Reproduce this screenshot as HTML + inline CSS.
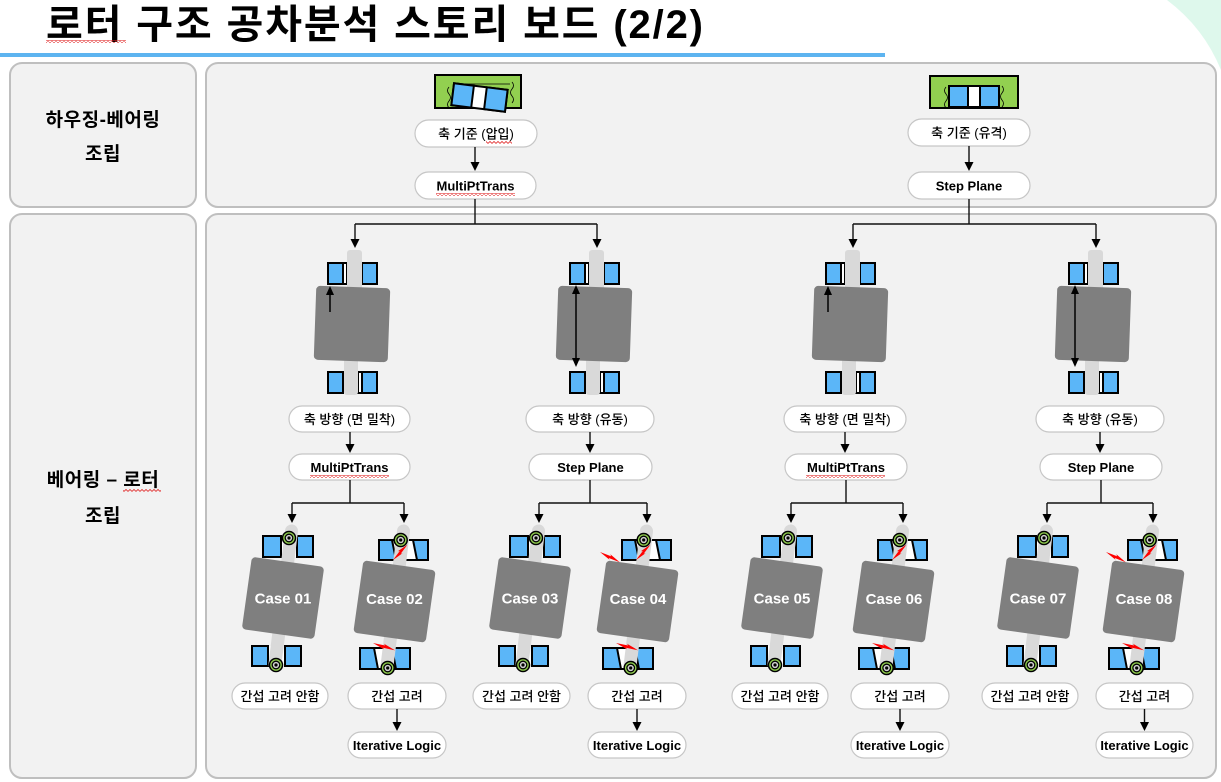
<!DOCTYPE html>
<html><head><meta charset="utf-8">
<style>
html,body{margin:0;padding:0;background:#fff;}
svg{display:block;}
text{font-family:"Liberation Sans","Noto Sans CJK KR",sans-serif;fill:#000;}
.k{font-size:13px;font-weight:500;}
.l{font-size:13px;font-weight:bold;}
.c{font-size:15px;font-weight:bold;fill:#fff;}
.h{font-size:19px;font-weight:bold;}
.ov{fill:#fff;stroke:#c6c6c6;stroke-width:1.2;}
.pn{fill:#f2f2f2;stroke:#bfbfbf;stroke-width:2;}
.cn{stroke:#111;stroke-width:1.4;fill:none;}
.b{fill:#5bb6f8;stroke:#000;stroke-width:2;}
.w{fill:#fff;stroke:#000;stroke-width:2;}
</style></head><body>
<svg width="1221" height="782" viewBox="0 0 1221 782" xmlns="http://www.w3.org/2000/svg" xmlns:xlink="http://www.w3.org/1999/xlink">
<defs>
<path id="bolt" d="M0 0 L11 2.5 L10 0.8 L20 7 L9 4.5 L10 6 Z" fill="#ff0000"/>
<pattern id="wv" width="4" height="3" patternUnits="userSpaceOnUse"><path d="M0 2.5 L2 0.5 L4 2.5" stroke="#e02020" stroke-width="0.8" fill="none"/></pattern>
<g id="ring"><circle r="6.5" fill="#92d050" stroke="#000" stroke-width="1.5"/><circle r="3.8" fill="#d0d0d0" stroke="#000" stroke-width="1.3"/><circle r="1.6" fill="#000"/></g>
<g id="asmT">
<rect x="-27" y="263" width="19" height="21" class="w"/>
<rect x="-27" y="263" width="15" height="21" class="b"/>
<rect x="7" y="263" width="15" height="21" class="b"/>
<rect x="-27" y="372" width="15" height="21" class="b"/>
<rect x="3" y="372" width="19" height="21" class="w"/>
<rect x="7" y="372" width="15" height="21" class="b"/>
<rect x="-8" y="250" width="15" height="45" rx="3" fill="#d9d9d9"/>
<rect x="-11" y="350" width="14" height="45" rx="3" fill="#d9d9d9"/>
<rect x="-37" y="-37" width="74" height="74" rx="4" fill="#7f7f7f" transform="translate(-3,324) rotate(2)"/>
</g>
<g id="arU"><line x1="-25" y1="312" x2="-25" y2="294" stroke="#000" stroke-width="1.5"/><polygon points="-29,295 -21,295 -25,286" fill="#000"/></g>
<g id="arD"><line x1="-21" y1="292" x2="-21" y2="359" stroke="#000" stroke-width="1.5"/><polygon points="-25,294 -17,294 -21,285" fill="#000"/><polygon points="-25,358 -17,358 -21,367" fill="#000"/></g>
<g id="asmN">
<rect x="-11" y="536" width="16" height="21" fill="#fff"/>
<rect x="-29" y="536" width="18" height="21" class="b"/>
<rect x="5" y="536" width="16" height="21" class="b"/>
<rect x="-24" y="646" width="17" height="20" fill="#fff"/>
<rect x="-40" y="646" width="16" height="20" class="b"/>
<rect x="-7" y="646" width="16" height="20" class="b"/>
<line x1="-0.5" y1="531" x2="-17" y2="664" stroke="#d9d9d9" stroke-width="13" stroke-linecap="round"/>
<rect x="-36.5" y="-36.5" width="73" height="73" rx="4" fill="#7f7f7f" transform="translate(-9,598) rotate(8)"/>
<use href="#ring" xlink:href="#ring" x="-3" y="538"/>
<use href="#ring" xlink:href="#ring" x="-16" y="665"/>
</g>
<g id="asmC">
<rect x="-25" y="540" width="49" height="20" class="w"/>
<polygon points="-25,540 -12,540 -8,560 -25,560" class="b"/>
<polygon points="9,540 24,540 24,560 13,560" class="b"/>
<rect x="-44" y="648" width="50" height="21" class="w"/>
<polygon points="-44,648 -30,648 -26,669 -44,669" class="b"/>
<polygon points="-12,648 6,648 6,669 -8,669" class="b"/>
<line x1="-0.5" y1="531" x2="-17" y2="666" stroke="#d9d9d9" stroke-width="13" stroke-linecap="round"/>
<rect x="-36.5" y="-36.5" width="73" height="73" rx="4" fill="#7f7f7f" transform="translate(-9.5,601.5) rotate(8)"/>
<use href="#ring" xlink:href="#ring" x="-3.3" y="540"/>
<use href="#ring" xlink:href="#ring" x="-16.3" y="668"/>
<use href="#bolt" xlink:href="#bolt" transform="translate(-11,560) rotate(-66)"/>
<use href="#bolt" xlink:href="#bolt" transform="translate(-31,643) rotate(-1) scale(1.1)"/>
</g>
</defs>

<!-- decorative mint corner -->
<path d="M1167 0 A166 166 0 0 1 1221 70 L1221 0 Z" fill="#def8ec"/>

<!-- title -->
<text x="46" y="38" font-size="40" font-weight="bold" textLength="657" lengthAdjust="spacing">로터 구조 공차분석 스토리 보드 (2/2)</text>
<rect x="46" y="40" width="80" height="3" fill="url(#wv)"/>
<rect x="0" y="53" width="885" height="4" fill="#5db4f0"/>

<!-- panels -->
<rect x="10" y="63" width="186" height="144" rx="12" class="pn"/>
<rect x="206" y="63" width="1010" height="144" rx="12" class="pn"/>
<rect x="10" y="214" width="186" height="564" rx="12" class="pn"/>
<rect x="206" y="214" width="1010" height="564" rx="12" class="pn"/>

<!-- left labels -->
<text x="103" y="126" class="h" text-anchor="middle" letter-spacing="0.5">하우징-베어링</text>
<text x="103" y="160" class="h" text-anchor="middle" letter-spacing="0.5">조립</text>
<text x="103" y="486" class="h" text-anchor="middle" letter-spacing="0.5">베어링 – 로터</text>
<rect x="123" y="489" width="38" height="3" fill="url(#wv)"/>
<text x="103" y="522" class="h" text-anchor="middle" letter-spacing="0.5">조립</text>

<!-- top green boxes -->
<rect x="435" y="75" width="86" height="33" fill="#92d050" stroke="#000" stroke-width="2"/>
<path d="M463 84 L510 84" stroke="#000" stroke-width="0.8"/>
<path d="M449 87 q-3 3.5 0 7 q3 3.5 0 7 q-3 3.5 0 7" stroke="#000" stroke-width="0.8" fill="none"/>
<path d="M512 82 q3 3.5 0 7 q-3 3.5 0 7 q3 3.5 0 7" stroke="#000" stroke-width="0.8" fill="none"/>
<g transform="translate(479.5,97.5) rotate(7)">
<rect x="-27" y="-11" width="54" height="22" class="w"/>
<rect x="-27" y="-11" width="20" height="22" class="b"/>
<rect x="6" y="-11" width="21" height="22" class="b"/>
</g>
<rect x="930" y="76" width="88" height="32" fill="#92d050" stroke="#000" stroke-width="2"/>
<path d="M946 87 q-3 3.5 0 7 q3 3.5 0 7 q-3 3.5 0 7" stroke="#000" stroke-width="0.8" fill="none"/>
<path d="M1002 86 q3 3.5 0 7 q-3 3.5 0 7 q3 3.5 0 7" stroke="#000" stroke-width="0.8" fill="none"/>
<rect x="949" y="86" width="50" height="21" class="w"/>
<rect x="949" y="86" width="19" height="21" class="b"/>
<rect x="980" y="86" width="19" height="21" class="b"/>

<!-- top row ovals -->
<rect x="415" y="120" width="122" height="27" rx="13.5" class="ov"/>
<text x="476" y="138.5" class="k" text-anchor="middle">축 기준 (압입)</text>
<rect x="486" y="141" width="26" height="3" fill="url(#wv)"/>
<rect x="415" y="172" width="121" height="27" rx="13.5" class="ov"/>
<text x="475.5" y="190.5" class="l" text-anchor="middle">MultiPtTrans</text>
<rect x="436" y="193" width="79" height="3" fill="url(#wv)"/>
<rect x="908" y="119" width="122" height="27" rx="13.5" class="ov"/>
<text x="969" y="137.5" class="k" text-anchor="middle">축 기준 (유격)</text>
<rect x="908" y="172" width="122" height="27" rx="13.5" class="ov"/>
<text x="969" y="190.5" class="l" text-anchor="middle">Step Plane</text>

<!-- top connectors -->
<path class="cn" d="M475 147 V163 M475 199 V224 M355 224 H597 M355 224 V240 M597 224 V240"/>
<polygon points="470.5,162 479.5,162 475,171" fill="#000"/>
<polygon points="350.5,239 359.5,239 355,248" fill="#000"/>
<polygon points="592.5,239 601.5,239 597,248" fill="#000"/>
<path class="cn" d="M969 146 V163 M969 199 V224 M853 224 H1096 M853 224 V240 M1096 224 V240"/>
<polygon points="964.5,162 973.5,162 969,171" fill="#000"/>
<polygon points="848.5,239 857.5,239 853,248" fill="#000"/>
<polygon points="1091.5,239 1100.5,239 1096,248" fill="#000"/>

<!-- top-row assemblies -->
<use href="#asmT" xlink:href="#asmT" x="355"/>
<use href="#arU" xlink:href="#arU" x="355"/>
<use href="#asmT" xlink:href="#asmT" x="597"/>
<use href="#arD" xlink:href="#arD" x="597"/>
<use href="#asmT" xlink:href="#asmT" x="853"/>
<use href="#arU" xlink:href="#arU" x="853"/>
<use href="#asmT" xlink:href="#asmT" x="1096"/>
<use href="#arD" xlink:href="#arD" x="1096"/>

<!-- row 2 ovals -->
<rect x="289" y="406" width="121" height="26" rx="13" class="ov"/>
<text x="349.5" y="424" class="k" text-anchor="middle">축 방향 (면 밀착)</text>
<rect x="526" y="406" width="128" height="26" rx="13" class="ov"/>
<text x="590" y="424" class="k" text-anchor="middle">축 방향 (유동)</text>
<rect x="784" y="406" width="122" height="26" rx="13" class="ov"/>
<text x="845" y="424" class="k" text-anchor="middle">축 방향 (면 밀착)</text>
<rect x="1036" y="406" width="128" height="26" rx="13" class="ov"/>
<text x="1100" y="424" class="k" text-anchor="middle">축 방향 (유동)</text>

<rect x="289" y="454" width="121" height="26" rx="13" class="ov"/>
<text x="349.5" y="472" class="l" text-anchor="middle">MultiPtTrans</text>
<rect x="310" y="475" width="79" height="3" fill="url(#wv)"/>
<rect x="529" y="454" width="123" height="26" rx="13" class="ov"/>
<text x="590.5" y="472" class="l" text-anchor="middle">Step Plane</text>
<rect x="785" y="454" width="122" height="26" rx="13" class="ov"/>
<text x="846" y="472" class="l" text-anchor="middle">MultiPtTrans</text>
<rect x="806" y="475" width="79" height="3" fill="url(#wv)"/>
<rect x="1040" y="454" width="122" height="26" rx="13" class="ov"/>
<text x="1101" y="472" class="l" text-anchor="middle">Step Plane</text>

<!-- row 2 connectors -->
<path class="cn" d="M350 432 V445 M590 432 V445 M845 432 V445 M1100 432 V445"/>
<polygon points="345.5,444 354.5,444 350,453" fill="#000"/>
<polygon points="585.5,444 594.5,444 590,453" fill="#000"/>
<polygon points="840.5,444 849.5,444 845,453" fill="#000"/>
<polygon points="1095.5,444 1104.5,444 1100,453" fill="#000"/>

<path class="cn" d="M350 480 V503 M292 503 H404 M292 503 V515 M404 503 V515"/>
<polygon points="287.5,514 296.5,514 292,523" fill="#000"/>
<polygon points="399.5,514 408.5,514 404,523" fill="#000"/>
<path class="cn" d="M590 480 V503 M539 503 H647 M539 503 V515 M647 503 V515"/>
<polygon points="534.5,514 543.5,514 539,523" fill="#000"/>
<polygon points="642.5,514 651.5,514 647,523" fill="#000"/>
<path class="cn" d="M846 480 V503 M791 503 H903 M791 503 V515 M903 503 V515"/>
<polygon points="786.5,514 795.5,514 791,523" fill="#000"/>
<polygon points="898.5,514 907.5,514 903,523" fill="#000"/>
<path class="cn" d="M1101 480 V503 M1047 503 H1153 M1047 503 V515 M1153 503 V515"/>
<polygon points="1042.5,514 1051.5,514 1047,523" fill="#000"/>
<polygon points="1148.5,514 1157.5,514 1153,523" fill="#000"/>

<!-- case assemblies -->
<use href="#asmN" xlink:href="#asmN" x="292"/>
<use href="#asmC" xlink:href="#asmC" x="404"/>
<use href="#asmN" xlink:href="#asmN" x="539"/>
<use href="#asmC" xlink:href="#asmC" x="647"/>
<use href="#bolt" xlink:href="#bolt" transform="translate(600,552) rotate(8) scale(1.05)"/>
<use href="#asmN" xlink:href="#asmN" x="791"/>
<use href="#asmC" xlink:href="#asmC" x="903"/>
<use href="#asmN" xlink:href="#asmN" x="1047"/>
<use href="#asmC" xlink:href="#asmC" x="1153"/>
<use href="#bolt" xlink:href="#bolt" transform="translate(1106,552) rotate(8) scale(1.05)"/>

<text x="283" y="603.5" class="c" text-anchor="middle">Case 01</text>
<text x="394.5" y="604" class="c" text-anchor="middle">Case 02</text>
<text x="530" y="603.5" class="c" text-anchor="middle">Case 03</text>
<text x="638" y="604" class="c" text-anchor="middle">Case 04</text>
<text x="782" y="603.5" class="c" text-anchor="middle">Case 05</text>
<text x="894" y="604" class="c" text-anchor="middle">Case 06</text>
<text x="1038" y="603.5" class="c" text-anchor="middle">Case 07</text>
<text x="1144" y="604" class="c" text-anchor="middle">Case 08</text>

<!-- row 3 ovals -->
<rect x="232" y="683" width="96" height="26" rx="13" class="ov"/>
<text x="280" y="701" class="k" text-anchor="middle">간섭 고려 안함</text>
<rect x="348" y="683" width="98" height="26" rx="13" class="ov"/>
<text x="397" y="701" class="k" text-anchor="middle">간섭 고려</text>
<rect x="473" y="683" width="97" height="26" rx="13" class="ov"/>
<text x="521.5" y="701" class="k" text-anchor="middle">간섭 고려 안함</text>
<rect x="588" y="683" width="98" height="26" rx="13" class="ov"/>
<text x="637" y="701" class="k" text-anchor="middle">간섭 고려</text>
<rect x="732" y="683" width="96" height="26" rx="13" class="ov"/>
<text x="780" y="701" class="k" text-anchor="middle">간섭 고려 안함</text>
<rect x="851" y="683" width="98" height="26" rx="13" class="ov"/>
<text x="900" y="701" class="k" text-anchor="middle">간섭 고려</text>
<rect x="982" y="683" width="96" height="26" rx="13" class="ov"/>
<text x="1030" y="701" class="k" text-anchor="middle">간섭 고려 안함</text>
<rect x="1096" y="683" width="97" height="26" rx="13" class="ov"/>
<text x="1144.5" y="701" class="k" text-anchor="middle">간섭 고려</text>

<!-- row 3 -> 4 connectors -->
<path class="cn" d="M397 709 V723 M637 709 V723 M900 709 V723 M1144.5 709 V723"/>
<polygon points="392.5,722 401.5,722 397,731" fill="#000"/>
<polygon points="632.5,722 641.5,722 637,731" fill="#000"/>
<polygon points="895.5,722 904.5,722 900,731" fill="#000"/>
<polygon points="1140,722 1149,722 1144.5,731" fill="#000"/>

<!-- row 4 ovals -->
<rect x="348" y="732" width="98" height="26" rx="13" class="ov"/>
<text x="397" y="750" class="l" text-anchor="middle">Iterative Logic</text>
<rect x="588" y="732" width="98" height="26" rx="13" class="ov"/>
<text x="637" y="750" class="l" text-anchor="middle">Iterative Logic</text>
<rect x="851" y="732" width="98" height="26" rx="13" class="ov"/>
<text x="900" y="750" class="l" text-anchor="middle">Iterative Logic</text>
<rect x="1096" y="732" width="97" height="26" rx="13" class="ov"/>
<text x="1144.5" y="750" class="l" text-anchor="middle">Iterative Logic</text>
</svg>
</body></html>
